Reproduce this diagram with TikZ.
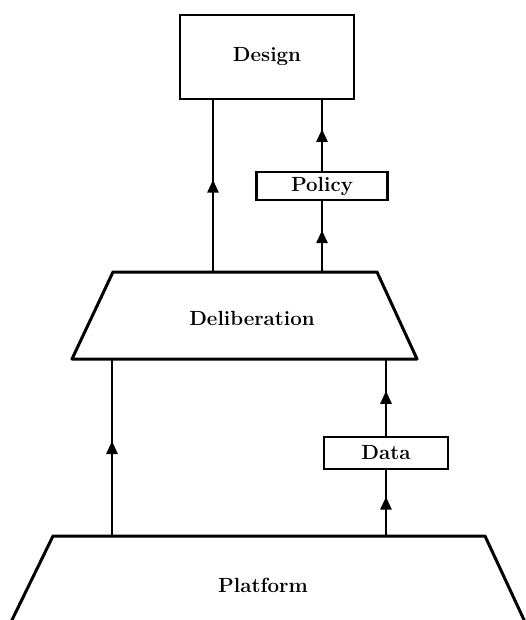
\documentclass[tikz,border=0pt]{standalone}
\usetikzlibrary{arrows.meta,decorations.markings}
\begin{document}
\begin{tikzpicture}[x=1pt,y=-1pt,
  lbl/.style={font=\fontsize{20.5}{24}\selectfont\bfseries, inner sep=0pt},
  box/.style={draw, line width=2.8pt, lbl, inner sep=0pt},
  shapeline/.style={line width=3pt, line join=round},
  conn/.style={line width=2.8pt},
  midarrow/.style={conn, postaction={decorate}, decoration={markings,
    mark=at position 0.5 with {\arrow[xshift=6.5pt]{Triangle[length=13pt,width=11pt]}}}}
]
\useasboundingbox[fill=white] (0,0) rectangle (525,620);

% Design
\node[box, minimum width=174pt, minimum height=84pt] (design) at (267,57) {Design};

% Deliberation trapezoid
\coordinate (delTL) at (113,272);
\coordinate (delTR) at (377,272);
\coordinate (delBR) at (417,359);
\coordinate (delBL) at (72,359);
\draw[shapeline] (delTL) -- (delTR) -- (delBR) -- (delBL) -- cycle;
\node[lbl] (delib) at (252,318) {Deliberation};

% Platform trapezoid (cut by picture bottom)
\coordinate (plBL) at (11,622);
\coordinate (plTL) at (53,536);
\coordinate (plTR) at (485,536);
\coordinate (plBR) at (525,622);
\draw[shapeline] (plBL) -- (plTL) -- (plTR) -- (plBR);
\node[lbl] (platform) at (263,585) {Platform};

% Policy and Data
\node[box, minimum width=131pt, minimum height=28pt] (policy) at (322,186) {Policy};
\node[box, minimum width=124pt, minimum height=32pt] (data) at (386,453) {Data};

% connection points
\coordinate (dT1) at (213,272);
\coordinate (dT2) at (322,272);
\coordinate (dB1) at (112,359);
\coordinate (dB2) at (386,359);
\coordinate (pT1) at (112,536);
\coordinate (pT2) at (386,536);

% connectors
\draw[midarrow] (dT1) -- (design.south -| dT1);
\draw[midarrow] (dT2) -- (policy.south);
\draw[midarrow] (policy.north) -- (design.south -| policy.north);
\draw[midarrow] (pT1) -- (dB1);
\draw[midarrow] (pT2) -- (data.south);
\draw[midarrow] (data.north) -- (dB2);
\end{tikzpicture}
\end{document}
